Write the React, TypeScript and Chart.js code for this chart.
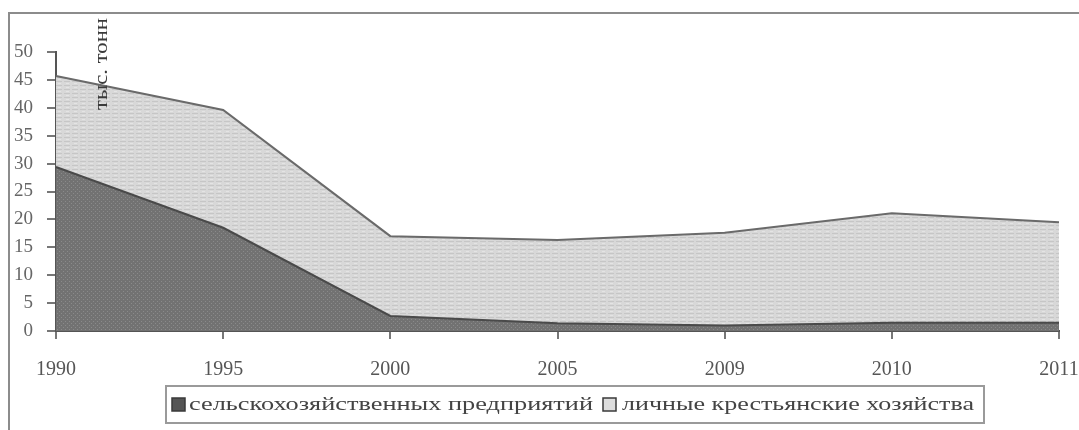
import React, { useEffect, useRef } from "react";
import { Chart, registerables } from "chart.js";

Chart.register(...registerables);

const years = ["1990", "1995", "2000", "2005", "2009", "2010", "2011"];
const enterprises = [29.4, 18.5, 2.7, 1.4, 1.0, 1.5, 1.5];
const households = [16.3, 21.1, 14.3, 14.9, 16.6, 19.6, 18.0];
const yTicks = [0, 5, 10, 15, 20, 25, 30, 35, 40, 45, 50];
const seriesNames = ["сельскохозяйственных предприятий", "личные крестьянские хозяйства"];
const yTitle = "тыс. тонн";

const FONT = '"Liberation Serif", "Times New Roman", serif';

function makePattern(kind: "light" | "dark"): CanvasPattern | string {
  const c = document.createElement("canvas");
  const ctx = c.getContext("2d");
  if (!ctx) return kind === "light" ? "#d4d4d4" : "#747474";
  if (kind === "light") {
    c.width = 8;
    c.height = 4;
    ctx.fillStyle = "#d8d8d8";
    ctx.fillRect(0, 0, 8, 4);
    ctx.fillStyle = "#c6c6c6";
    ctx.fillRect(0, 1, 6, 1);
    ctx.fillStyle = "#e4e4e4";
    ctx.fillRect(2, 3, 3, 1);
  } else {
    c.width = 4;
    c.height = 4;
    ctx.fillStyle = "#727272";
    ctx.fillRect(0, 0, 4, 4);
    ctx.fillStyle = "#8a8a8a";
    ctx.fillRect(1, 1, 1, 1);
    ctx.fillRect(3, 3, 1, 1);
  }
  const p = ctx.createPattern(c, "repeat");
  return p || (kind === "light" ? "#d4d4d4" : "#747474");
}

const framePlugin = {
  id: "frame",
  beforeDraw(chart: any) {
    const ctx = chart.ctx;
    ctx.save();
    ctx.fillStyle = "#ffffff";
    ctx.fillRect(0, 0, chart.width, chart.height);
    ctx.strokeStyle = "#8c8c8c";
    ctx.lineWidth = 2;
    ctx.beginPath();
    ctx.moveTo(9, 440);
    ctx.lineTo(9, 13);
    ctx.lineTo(chart.width, 13);
    ctx.stroke();
    ctx.restore();
  },
};

const extrasPlugin = {
  id: "extras",
  afterDatasetsDraw(chart: any) {
    const ctx = chart.ctx;
    ctx.save();
    ctx.translate(102, 64);
    ctx.rotate(-Math.PI / 2);
    ctx.font = "18px " + FONT;
    ctx.fillStyle = "#3a3a3a";
    ctx.textAlign = "center";
    ctx.textBaseline = "middle";
    const w = ctx.measureText(yTitle).width;
    ctx.scale(92 / w, 1);
    ctx.fillText(yTitle, 0, 0);
    ctx.restore();
  },
  afterDraw(chart: any) {
    const ctx = chart.ctx;
    ctx.save();
    // legend box
    ctx.strokeStyle = "#9a9a9a";
    ctx.lineWidth = 2;
    ctx.strokeRect(166, 386, 818, 37);
    ctx.font = "19px " + FONT;
    ctx.fillStyle = "#444";
    ctx.textBaseline = "middle";
    ctx.textAlign = "left";
    const items = [
      { sq: 172, tx: 189, tw: 404, fill: "#555555" },
      { sq: 603, tx: 622, tw: 352, fill: "#dddddd" },
    ];
    items.forEach((it, i) => {
      ctx.fillStyle = it.fill;
      ctx.fillRect(it.sq, 398, 13, 13);
      ctx.strokeStyle = "#3a3a3a";
      ctx.lineWidth = 1.5;
      ctx.strokeRect(it.sq, 398, 13, 13);
      ctx.save();
      ctx.fillStyle = "#444";
      const w = ctx.measureText(seriesNames[i]).width;
      ctx.translate(it.tx, 405);
      ctx.scale(it.tw / w, 1);
      ctx.fillText(seriesNames[i], 0, 0);
      ctx.restore();
    });
    ctx.restore();
  },
};

export default function App() {
  const ref = useRef<HTMLCanvasElement | null>(null);

  useEffect(() => {
    if (!ref.current) return;
    const chart = new Chart(ref.current, {
      type: "line",
      data: {
        labels: years,
        datasets: [
          {
            label: seriesNames[0],
            data: enterprises,
            fill: "origin",
            backgroundColor: makePattern("dark") as any,
            borderColor: "#4a4a4a",
            borderWidth: 2,
            pointRadius: 0,
            tension: 0,
          },
          {
            label: seriesNames[1],
            data: households,
            fill: "-1",
            backgroundColor: makePattern("light") as any,
            borderColor: "#6a6a6a",
            borderWidth: 2,
            pointRadius: 0,
            tension: 0,
          },
        ],
      },
      options: {
        animation: false,
        responsive: false,
        events: [],
        layout: { padding: { left: 0, right: 41, top: 52, bottom: 0 } },
        plugins: {
          legend: { display: false },
          tooltip: { enabled: false },
        },
        scales: {
          x: {
            offset: false,
            grid: {
              drawOnChartArea: false,
              drawTicks: true,
              tickLength: 8,
              color: "#777",
              lineWidth: 2,
            },
            border: { display: true, color: "#555", width: 2 },
            ticks: {
              font: { family: FONT, size: 20 },
              color: "#555",
              padding: 19,
              maxRotation: 0,
              autoSkip: false,
            },
            afterFit(scale: any) {
              scale.height = 99;
            },
          },
          y: {
            stacked: true,
            min: 0,
            max: 50,
            afterBuildTicks(scale: any) {
              scale.ticks = yTicks.map((v) => ({ value: v }));
            },
            grid: {
              drawOnChartArea: false,
              drawTicks: true,
              tickLength: 9,
              color: "#777",
              lineWidth: 2,
            },
            border: { display: true, color: "#555", width: 2 },
            ticks: {
              font: { family: FONT, size: 19 },
              color: "#666",
              padding: 14,
            },
            afterFit(scale: any) {
              scale.width = 56;
            },
          },
        },
      },
      plugins: [framePlugin, extrasPlugin],
    });
    return () => chart.destroy();
  }, []);

  return (
    <div
      style={{
        position: "fixed",
        left: 0,
        top: 0,
        width: 1079,
        height: 430,
        overflow: "hidden",
        background: "#fff",
      }}
    >
      <canvas ref={ref} width={1100} height={430} style={{ display: "block", width: 1100, height: 430 }} />
    </div>
  );
}
